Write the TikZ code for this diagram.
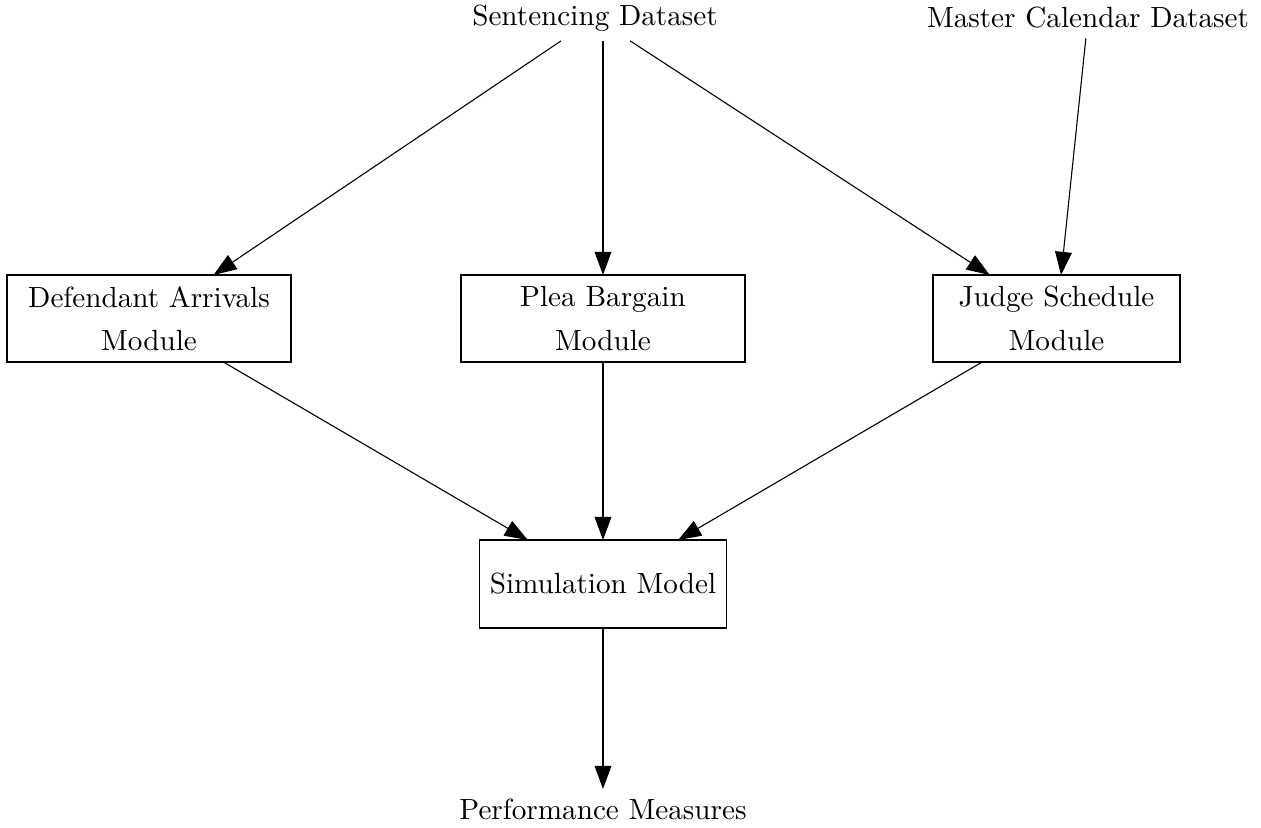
\documentclass[tikz,border=0pt]{standalone}
\usetikzlibrary{arrows.meta}
\begin{document}
\begin{tikzpicture}[x=0.346pt,y=-0.346pt,
  box/.style={draw,line width=0.38pt,align=center,inner sep=0pt,outer sep=0pt,minimum height=30.1pt,font=\fontsize{10.1}{15}\selectfont},
  lbl/.style={inner sep=3.33pt,outer sep=0pt,font=\fontsize{10.1}{12}\selectfont},
  arr/.style={line width=0.38pt,-{Triangle[length=8pt,width=5.8pt]}}]
\useasboundingbox (0,0) rectangle (1261,828);
\node[lbl] (sent) at (595,18) {Sentencing Dataset};
\node[lbl] (mast) at (1088,18) {Master Calendar Dataset};
\node[box,minimum width=98.26pt] (def) at (149,318.5) {Defendant Arrivals\\Module};
\node[box,minimum width=98.26pt] (plea) at (603,318.5) {Plea Bargain\\Module};
\node[box,minimum width=85.46pt] (judge) at (1056.5,318.5) {Judge Schedule\\Module};
\node[box,minimum width=85.46pt,minimum height=30.45pt] (sim) at (603,584) {Simulation Model};
\node[lbl] (perf) at (603,809) {Performance Measures};
\draw[arr] (sent) -- (def);
\draw[arr] (sent.south -| plea) -- (plea);
\draw[arr] (sent) -- (judge);
\draw[arr] (mast) -- (judge);
\draw[arr] (def) -- (sim);
\draw[arr] (plea) -- (sim);
\draw[arr] (judge) -- (sim);
\draw[arr] (sim) -- (perf);
\end{tikzpicture}
\end{document}
